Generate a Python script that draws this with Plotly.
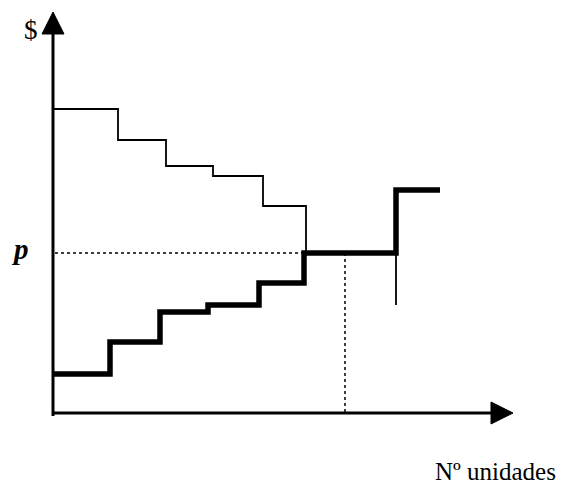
import plotly.graph_objects as go

# Demand schedule (thin step line): price level of each block and where each block starts
demand_q = [0, 65, 113, 160, 210, 253, 343, 343]
demand_p = [304, 273, 247, 237, 207, 160, 160, 108]

# Supply schedule (thick step line)
supply_q = [0, 57, 107, 155, 206, 251, 343, 387]
supply_p = [39, 71, 101, 108, 130, 160, 223, 223]

# Market-clearing price and quantity
eq_price = 160
eq_qty = 292

# Axis extents
x_max = 438
y_max = 379
arrow_len = 22
arrow_half = 11

W, H = 561, 487
x_range = [-53, 508]
y_range = [-74, 413]

fig = go.Figure()

# axes
fig.add_trace(go.Scatter(x=[0, 0], y=[-3, y_max], mode="lines",
                         line=dict(color="black", width=3), hoverinfo="skip"))
fig.add_trace(go.Scatter(x=[-1, x_max], y=[0, 0], mode="lines",
                         line=dict(color="black", width=3), hoverinfo="skip"))
# arrow heads
fig.add_trace(go.Scatter(x=[-arrow_half, 0, arrow_half, -arrow_half],
                         y=[y_max, y_max + arrow_len, y_max, y_max],
                         mode="lines", fill="toself", fillcolor="black",
                         line=dict(color="black", width=1), hoverinfo="skip"))
fig.add_trace(go.Scatter(x=[x_max, x_max + arrow_len, x_max, x_max],
                         y=[-arrow_half, 0, arrow_half, -arrow_half],
                         mode="lines", fill="toself", fillcolor="black",
                         line=dict(color="black", width=1), hoverinfo="skip"))

# dotted guides at the clearing point
fig.add_trace(go.Scatter(x=[2, supply_q[5]], y=[eq_price, eq_price], mode="lines",
                         line=dict(color="black", width=1.5, dash="dot"), hoverinfo="skip"))
fig.add_trace(go.Scatter(x=[eq_qty, eq_qty], y=[eq_price, 0], mode="lines",
                         line=dict(color="black", width=1.5, dash="dot"), hoverinfo="skip"))

# demand (thin) and supply (thick)
fig.add_trace(go.Scatter(x=demand_q, y=demand_p, mode="lines", line_shape="hv",
                         line=dict(color="black", width=1.8), hoverinfo="skip"))
fig.add_trace(go.Scatter(x=supply_q, y=supply_p, mode="lines", line_shape="hv",
                         line=dict(color="black", width=5.5), hoverinfo="skip"))

font = "Liberation Serif, Times New Roman, serif"
fig.add_annotation(x=-22, y=383, text="$", showarrow=False,
                   font=dict(family=font, size=27, color="black"))
fig.add_annotation(x=-33, y=eq_price + 4, text="<b><i>p</i></b>", showarrow=False,
                   font=dict(family=font, size=29, color="black"))
fig.add_annotation(x=505, y=-74, xanchor="right", yanchor="bottom",
                   text="Nº unidades", showarrow=False,
                   font=dict(family=font, size=25, color="black"))

fig.update_layout(
    width=W, height=H,
    margin=dict(l=0, r=0, t=0, b=0),
    paper_bgcolor="white", plot_bgcolor="white",
    showlegend=False,
    xaxis=dict(range=x_range, visible=False, fixedrange=True),
    yaxis=dict(range=y_range, visible=False, fixedrange=True),
)

fig.write_html("out.html", config={"displayModeBar": False})
